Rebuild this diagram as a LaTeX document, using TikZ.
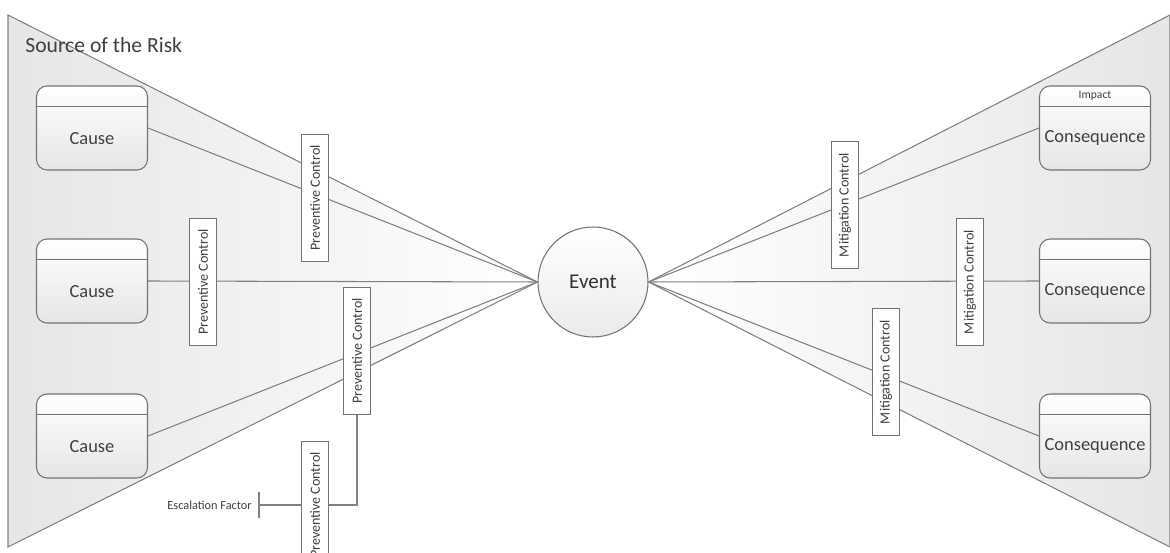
\documentclass[tikz,border=0pt]{standalone}
\usepackage{fontspec}
\setmainfont{Carlito}
\usetikzlibrary{positioning}

\tikzset{
  edge/.style={draw=black!50, line width=0.6pt},
  riskbox/.style={draw=black!55, line width=0.6pt, rounded corners=6pt,
    top color=white, bottom color=black!10,
    minimum width=2.22cm, minimum height=1.68cm},
  boxlabel/.style={text=black!75, inner sep=0pt, font=\fontsize{10.5}{12}\selectfont},
  control/.style={draw=black!55, line width=0.6pt, fill=white, inner sep=0pt,
    minimum width=0.55cm, minimum height=2.54cm,
    text=black!75, font=\fontsize{8}{9}\selectfont},
}

\begin{document}
\begin{tikzpicture}[x=0.02cm, y=-0.02cm]
	\useasboundingbox (0,0) rectangle (1170,553);
	\clip (0,0) rectangle (1170,553);

	% event in the middle
	\node[draw=black!55, line width=0.6pt, circle, minimum size=2.2cm,
	  top color=white, bottom color=black!8, text=black!80,
	  font=\fontsize{12}{14}\selectfont] (ev) at (593,282) {Event};

	% the two halves of the bow tie
	\coordinate (lt) at (8,15);
	\coordinate (lb) at (8,547);
	\coordinate (rt) at (1170,15);
	\coordinate (rb) at (1170,547);
	\draw[edge, left color=black!10, right color=white] (lt) -- (lb) -- (ev.west) -- cycle;
	\draw[edge, right color=black!10, left color=white] (rt) -- (rb) -- (ev.east) -- cycle;

	\node[anchor=west, inner sep=0pt, text=black!75,
	  font=\fontsize{12.3}{14}\selectfont] (src) at (25,45) {Source of the Risk};

	% causes
	\node[riskbox] (c1) at (92,128) {};
	\draw[draw=black!55, line width=0.6pt] ([yshift=-0.42cm]c1.north west) -- ([yshift=-0.42cm]c1.north east);
	\node[boxlabel] (c1t) at ([yshift=-0.21cm]c1.center) {Cause};

	\node[riskbox] (c2) at (92,281) {};
	\draw[draw=black!55, line width=0.6pt] ([yshift=-0.42cm]c2.north west) -- ([yshift=-0.42cm]c2.north east);
	\node[boxlabel] (c2t) at ([yshift=-0.21cm]c2.center) {Cause};

	\node[riskbox] (c3) at (92,436) {};
	\draw[draw=black!55, line width=0.6pt] ([yshift=-0.42cm]c3.north west) -- ([yshift=-0.42cm]c3.north east);
	\node[boxlabel] (c3t) at ([yshift=-0.21cm]c3.center) {Cause};

	% consequences
	\node[riskbox] (k1) at (1095,128) {};
	\draw[draw=black!55, line width=0.6pt] ([yshift=-0.42cm]k1.north west) -- ([yshift=-0.42cm]k1.north east);
	\node[boxlabel] (k1t) at ([yshift=-0.21cm]k1.center) {Consequence};
	\node[text=black!75, inner sep=0pt, font=\fontsize{6.6}{7}\selectfont] (k1h)
	  at ([yshift=-0.21cm]k1.north) {Impact};

	\node[riskbox] (k2) at (1095,281) {};
	\draw[draw=black!55, line width=0.6pt] ([yshift=-0.42cm]k2.north west) -- ([yshift=-0.42cm]k2.north east);
	\node[boxlabel] (k2t) at ([yshift=-0.21cm]k2.center) {Consequence};

	\node[riskbox] (k3) at (1095,436) {};
	\draw[draw=black!55, line width=0.6pt] ([yshift=-0.42cm]k3.north west) -- ([yshift=-0.42cm]k3.north east);
	\node[boxlabel] (k3t) at ([yshift=-0.21cm]k3.center) {Consequence};

	% links to the event
	\draw[edge] (c1.east) -- (ev.west);
	\draw[edge] (c2.east) -- (ev.west);
	\draw[edge] (c3.east) -- (ev.west);
	\draw[edge] (k1.west) -- (ev.east);
	\draw[edge] (k2.west) -- (ev.east);
	\draw[edge] (k3.west) -- (ev.east);

	% controls
	\node[control] (pc1) at (315,198) {\rotatebox{90}{Preventive Control}};
	\node[control] (pc2) at (203,282) {\rotatebox{90}{Preventive Control}};
	\node[control] (pc3) at (357,351) {\rotatebox{90}{Preventive Control}};
	\node[control] (pc4) at (315,505) {\rotatebox{90}{Preventive Control}};
	\node[control] (mc1) at (845,205) {\rotatebox{90}{Mitigation Control}};
	\node[control] (mc2) at (970,282) {\rotatebox{90}{Mitigation Control}};
	\node[control] (mc3) at (886,372) {\rotatebox{90}{Mitigation Control}};

	% escalation factor
	\coordinate (ef) at (259,505);
	\draw[edge] (pc4.east) -| (pc3.south);
	\draw[edge] (pc4.west) -- (ef);
	\draw[edge] ([yshift=0.27cm]ef) -- ([yshift=-0.27cm]ef);
	\node[left=0.14cm of ef, inner sep=0pt, text=black!75,
	  font=\fontsize{7}{8}\selectfont] (eft) {Escalation Factor};
\end{tikzpicture}
\end{document}
